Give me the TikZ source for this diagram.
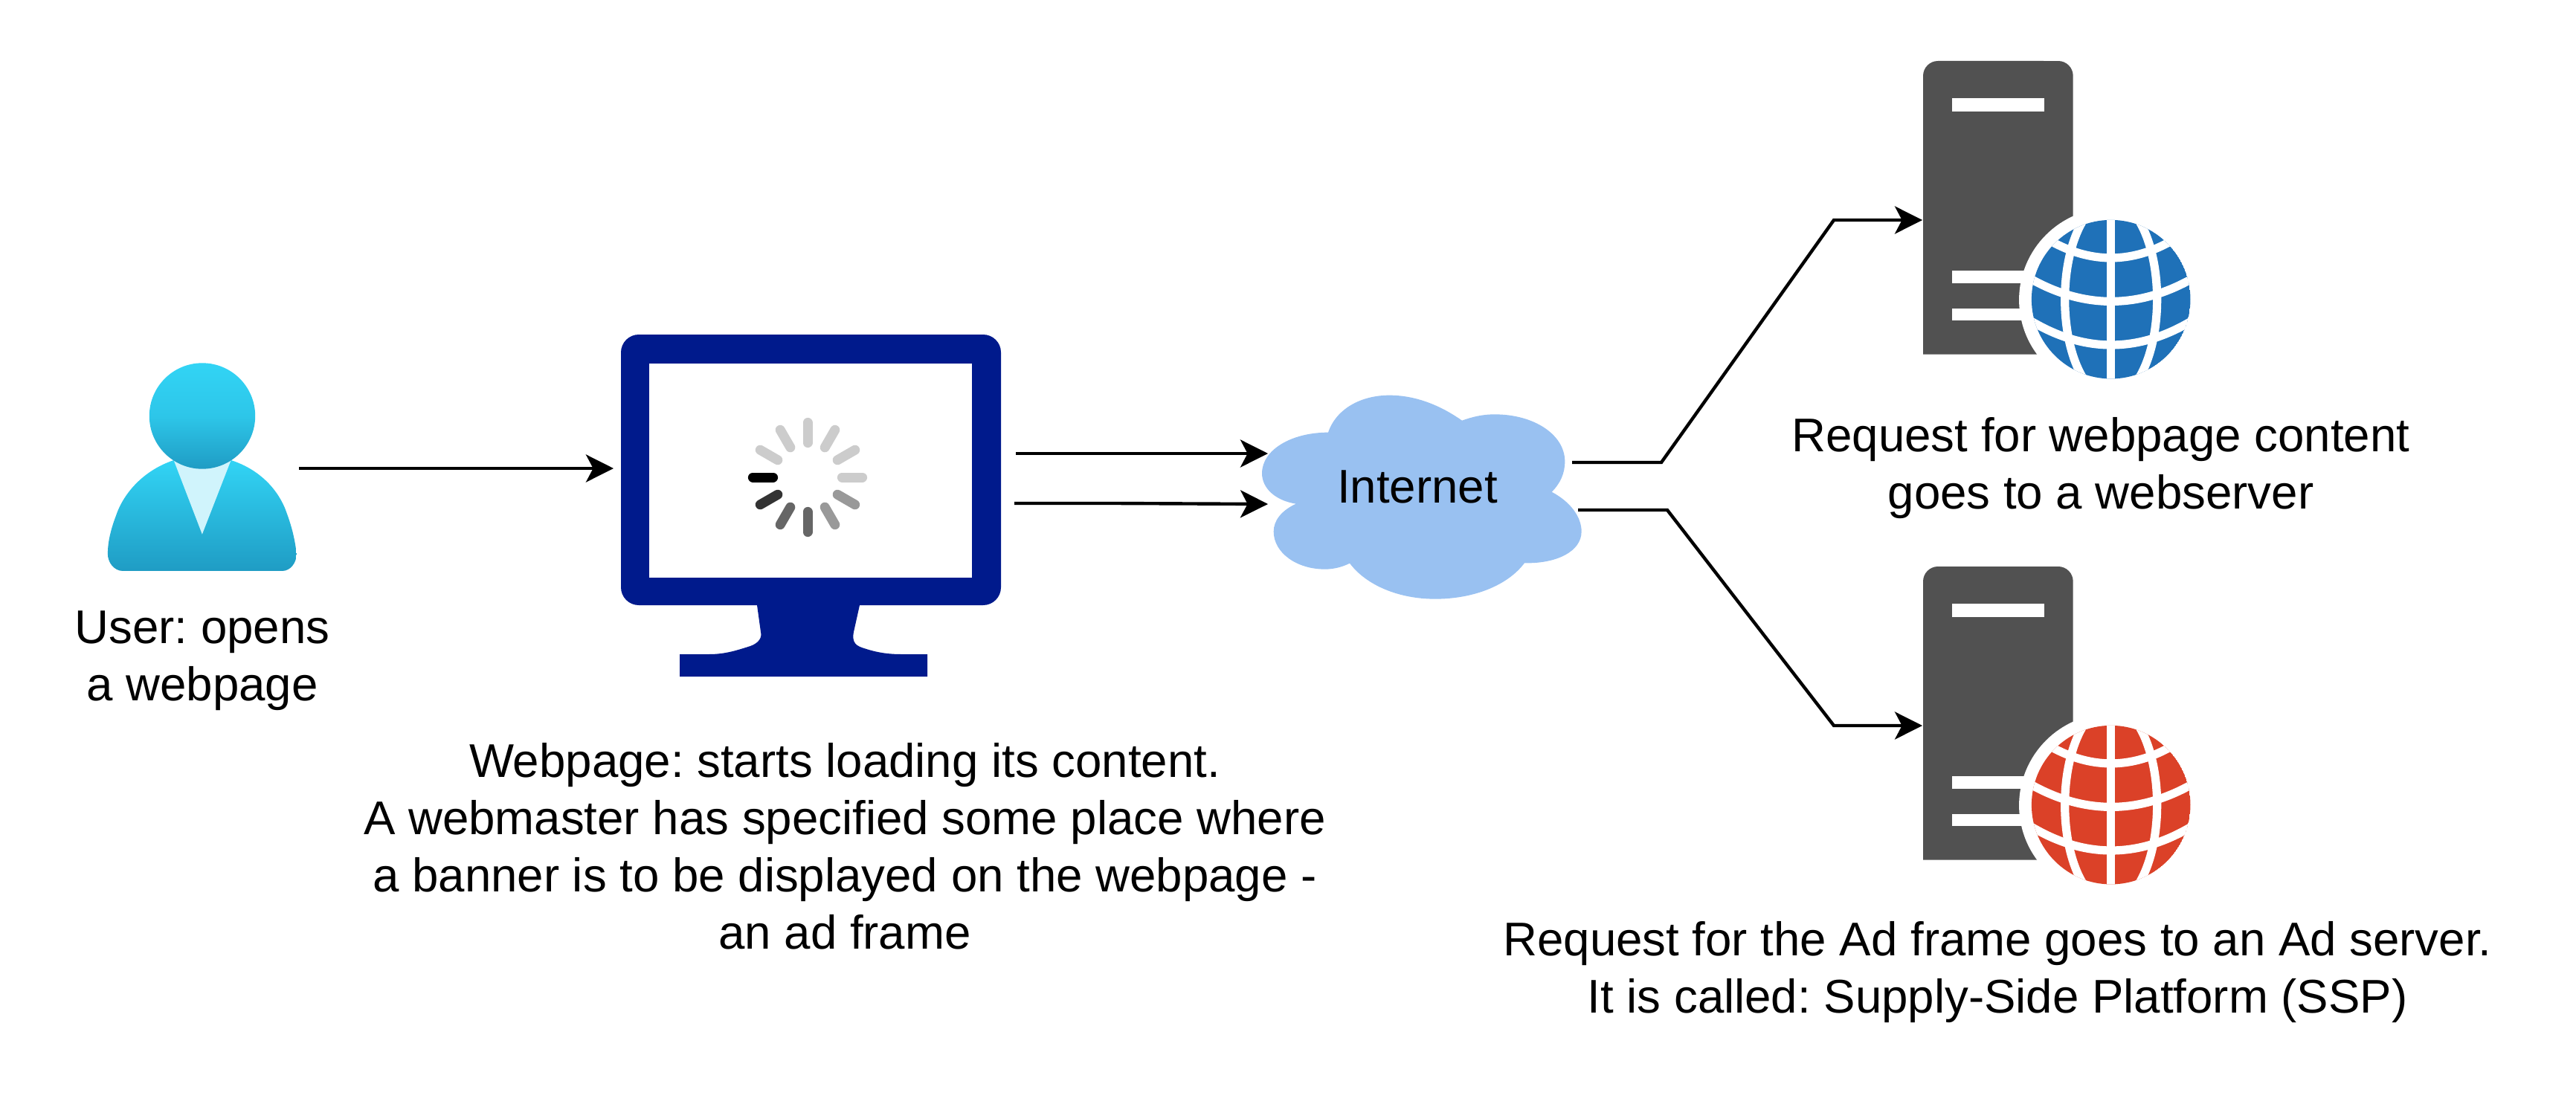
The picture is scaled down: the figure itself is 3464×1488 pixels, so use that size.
\documentclass[tikz,border=0pt]{standalone}
\usepackage{fontspec}
\setmainfont{Liberation Sans}
\frenchspacing
\usetikzlibrary{arrows.meta,calc}
\definecolor{navy}{HTML}{001A8C}
\definecolor{cloudblue}{HTML}{99C1F1}
\definecolor{servergrey}{HTML}{515151}
\definecolor{globeblue}{HTML}{1F71B8}
\definecolor{globered}{HTML}{DB4128}
\definecolor{usertop}{HTML}{32D4F5}
\definecolor{userbot}{HTML}{1F9CC4}
\definecolor{collar}{HTML}{D0F4FC}
\tikzset{
  label text/.style={align=center,inner sep=0pt,font=\fontsize{15.9}{19.2}\selectfont},
  link/.style={line width=1.1pt,black,line join=miter},
  linkarrow/.style={link,-{Stealth[length=9.25pt,width=9.25pt,inset=2.4pt]}},
  gridline/.style={white,line width=2.8pt},
}
\newcommand{\serverico}[2]{%
  \begin{scope}[shift={(2540,#1)},x=0.25pt/3,y=-0.25pt/3]
    \fill[servergrey] (138,1250) -- (138,126) arc[start angle=180,end angle=90,radius=5pt] -- (683,66) arc[start angle=90,end angle=0,radius=5pt] -- (743,1250) -- cycle;
    \fill[white] (255,217) rectangle (626,269);
    \fill[white] (255,912) rectangle (700,962);
    \fill[white] (255,1064) rectangle (700,1114);
    \fill[white] (896,1030) circle[radius=30.9pt];
    \begin{scope}
      \clip (896,1028) circle[radius=26.7pt];
      \fill[#2] (896,1028) circle[radius=26.7pt];
      \draw[gridline] (896,650) -- (896,1400);
      \draw[gridline] (896,1028) ellipse[x radius=15.5pt,y radius=33.3pt];
      \draw[gridline] (620,776) -- (672,803) .. controls (821,880) and (971,880) .. (1120,803) -- (1172,776);
      \draw[gridline] (540,928) -- (586,953) .. controls (793,1064) and (1001,1064) .. (1208,953) -- (1254,928);
      \draw[gridline] (550,1103) -- (595,1128) .. controls (796,1240) and (998,1240) .. (1199,1128) -- (1244,1103);
    \end{scope}
  \end{scope}}
\begin{document}
\begin{tikzpicture}[x=0.25pt,y=-0.25pt]
\useasboundingbox (0,0) rectangle (3464,1488);
% user
\begin{scope}[shift={(100,440)},x=0.25pt/1.96,y=-0.25pt/3]
  \shade[top color=usertop,bottom color=userbot] (262,537) .. controls (170,585) and (125,690) .. (110,760) .. controls (95,820) and (88,870) .. (88,915) .. controls (88,950) and (105,984) .. (128,984) -- (548,984) .. controls (570,984) and (586,950) .. (586,915) .. controls (580,840) and (570,790) .. (555,730) .. controls (530,640) and (480,570) .. (413,537) -- cycle;
  \fill[collar] (262,537) -- (337,836) -- (413,537) -- cycle;
\end{scope}
\shade[top color=usertop,bottom color=userbot,middle color=usertop!75!userbot] (272,559.5) circle[radius=17.8pt];
% monitor
\fill[navy] (859,450) -- (1322,450) arc[start angle=90,end angle=0,radius=6pt] -- (1346,790) arc[start angle=0,end angle=-90,radius=6pt] -- (1156,814) -- (1148,850) .. controls (1145,865) and (1152,869) .. (1162,872) .. controls (1180,878) and (1195,880) .. (1213,880) -- (1247,880) -- (1247,910) -- (914,910) -- (914,880) -- (953,880) .. controls (975,880) and (990,875) .. (1009,869) .. controls (1020,865) and (1025,858) .. (1023,850) -- (1018,814) -- (859,814) arc[start angle=270,end angle=180,radius=6pt] -- (835,474) arc[start angle=180,end angle=90,radius=6pt] -- cycle;
\fill[white] (873,489) rectangle (1307,777);
% spinner
\foreach \ang/\shadeval in {0/CCCCCC,30/CCCCCC,60/CCCCCC,90/CCCCCC,120/CCCCCC,150/CCCCCC,180/000000,210/333333,240/666666,270/666666,300/999999,330/999999}{
  \definecolor{spoke}{HTML}{\shadeval}
  \draw[spoke,line width=3.25pt,line cap=round] ($(1086,642)+(\ang:11.6pt)$) -- ($(1086,642)+(\ang:18.4pt)$);
}
% cloud
\begin{scope}[shift={(1650,500)},x=0.25pt/3,y=-0.25pt/3]
  \fill[cloudblue] (408,245) .. controls (440,150) and (540,95) .. (655,95) .. controls (760,95) and (860,135) .. (948,197) .. controls (990,182) and (1030,172) .. (1080,172) .. controls (1240,172) and (1363,255) .. (1363,362) .. controls (1363,410) and (1345,450) .. (1310,485) .. controls (1385,525) and (1430,585) .. (1430,645) .. controls (1430,725) and (1330,775) .. (1200,772) .. controls (1130,865) and (990,917) .. (840,917) .. controls (690,917) and (560,860) .. (495,773) .. controls (465,788) and (430,797) .. (395,797) .. controls (280,797) and (188,730) .. (188,645) .. controls (188,600) and (220,560) .. (278,533) .. controls (195,520) and (141,470) .. (141,410) .. controls (141,315) and (260,245) .. (408,245) -- cycle;
\end{scope}
\node[label text,anchor=base] (internet) at (1906,676) {Internet};
% servers
\serverico{60}{globeblue}
\serverico{740}{globered}
% labels
\node[label text,anchor=north] (userlabel) at (272,821) {User: opens\\a webpage};
\node[label text,anchor=north] (pagelabel) at (1136,999) {Webpage: starts loading its content.\\A webmaster has specified some place where\\a banner is to be displayed on the webpage -\\an ad frame};
\node[label text,anchor=north] (weblabel) at (2825,561) {Request for webpage content\\goes to a webserver};
\node[label text,anchor=north] (adlabel) at (2686,1239) {Request for the Ad frame goes to an Ad server.\\It is called: Supply-Side Platform (SSP)};
% connector ends
\coordinate (userout) at (402,630);
\coordinate (screenin) at (825,630);
\coordinate (screenouta) at (1366,610);
\coordinate (screenoutb) at (1364,677);
\coordinate (cloudina) at (1705,610);
\coordinate (cloudinb) at (1705,678);
\coordinate (cloudouta) at (2114,622);
\coordinate (cloudoutb) at (2122,686);
\coordinate (bendaa) at (2234,622);
\coordinate (bendab) at (2466,296);
\coordinate (bendba) at (2242,686);
\coordinate (bendbb) at (2466,976);
\coordinate (bendc) at (1500,677);
\coordinate (webserver) at (2585,296);
\coordinate (adserver) at (2585,976);
\draw[linkarrow] (userout) -- (screenin);
\draw[linkarrow] (screenouta) -- (cloudina);
\draw[linkarrow] (screenoutb) -- (bendc) -- (cloudinb);
\draw[linkarrow] (cloudouta) -- (bendaa) -- (bendab) -- (webserver);
\draw[linkarrow] (cloudoutb) -- (bendba) -- (bendbb) -- (adserver);
\end{tikzpicture}
\end{document}
